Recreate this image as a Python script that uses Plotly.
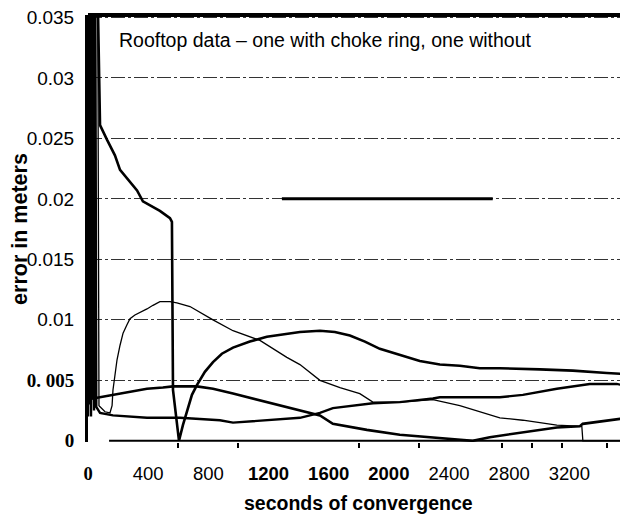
import plotly.graph_objects as go

# ------------------------------------------------------------
# Dados (segundos de convergência x erro em metros)
# ------------------------------------------------------------
t_a = [0, 13, 60, 80, 126, 179, 213, 279, 326, 365, 478, 545, 558, 565, 605, 631, 658, 691, 724, 777,
       831, 890, 964, 1076, 1189, 1309, 1409, 1542, 1641, 1741, 1841, 1940, 2073, 2206, 2339, 2472,
       2605, 2738, 3004, 3223, 3449, 3590]
err_a = [0.0034, 0.040, 0.040, 0.0261, 0.0249, 0.0236, 0.0224, 0.0214, 0.0207, 0.0198, 0.0190, 0.0184,
         0.0181, 0.0042, 0.0000, 0.0013, 0.0025, 0.0038, 0.0046, 0.0057, 0.0065, 0.0072, 0.0077, 0.0082,
         0.0086, 0.0088, 0.0090, 0.0091, 0.0090, 0.0087, 0.0082, 0.0076, 0.0071, 0.0066, 0.0063, 0.0062,
         0.0060, 0.0060, 0.0059, 0.0058, 0.0056, 0.0055]

t_b = [64, 73, 113, 146, 160, 166, 179, 193, 213, 233, 259, 279, 312, 346, 392, 432, 478, 545, 591, 678,
       744, 831, 964, 1143, 1322, 1409, 1542, 1675, 1807, 1894, 2073, 2293, 2472, 2738, 2891, 3117,
       3283, 3290, 3590]
err_b = [0.040, 0.0029, 0.0024, 0.0023, 0.0029, 0.0042, 0.0054, 0.0067, 0.0079, 0.0089, 0.0096, 0.0101,
         0.0104, 0.0106, 0.0109, 0.0112, 0.0115, 0.0115, 0.0114, 0.0111, 0.0106, 0.0100, 0.0091, 0.0083,
         0.0069, 0.0063, 0.0050, 0.0044, 0.0039, 0.0032, 0.0032, 0.0034, 0.0029, 0.0019, 0.0017, 0.0013,
         0.0012, 0.0000, 0.0000]

t_c = [0, 5, 15, 25, 33, 166, 279, 392, 498, 565, 724, 831, 964, 1189, 1409, 1542, 1628, 1854, 2073, 2293,
       2558, 2671, 2891, 3117, 3270, 3289, 3590]
err_c = [0.0035, 0.040, 0.0030, 0.040, 0.0035, 0.0038, 0.0040, 0.0043, 0.0044, 0.0045, 0.0045, 0.0043,
         0.0039, 0.0032, 0.0025, 0.0021, 0.0014, 0.0009, 0.0005, 0.0003, 0.0000, 0.0003, 0.0007, 0.0011,
         0.0012, 0.0014, 0.0019]

t_d = [0, 10, 20, 30, 40, 48, 55, 80, 166, 392, 611, 877, 964, 1189, 1409, 1542, 1628, 1894, 2073, 2293,
       2339, 2738, 2891, 3117, 3336, 3515, 3590]
err_d = [0.0020, 0.040, 0.0020, 0.040, 0.0025, 0.040, 0.0028, 0.0023, 0.0021, 0.0019, 0.0019, 0.0017,
         0.0015, 0.0017, 0.0019, 0.0023, 0.0027, 0.0031, 0.0032, 0.0035, 0.0036, 0.0036, 0.0038, 0.0043,
         0.0047, 0.0047, 0.0045]

# traço grosso sobre a linha de 0.02
t_seg = [1289, 2691]
err_seg = [0.02, 0.02]

x_ticks = [0, 400, 800, 1200, 1600, 2000, 2400, 2800, 3200]
x_labels = ["<span style='font-family:Liberation Serif'><b>0</b></span>", "400", "800",
            "<b>1200</b>", "<b>1600</b>", "<b>2000</b>", "2400", "2800", "3200"]
x_minor = [600, 1000, 1800, 2200, 2750, 2950, 3150, 3450]

y_ticks = [0, 0.005, 0.01, 0.015, 0.02, 0.025, 0.03, 0.035]
y_labels = ["<span style='font-family:Liberation Serif'><b>0</b></span>",
            "<span style='font-family:Liberation Serif'><b>0. 005</b></span>",
            "0.01", "0.015", "0.02", "0.025", "0.03", "0.035"]

FONTE = "Liberation Sans, Arial, sans-serif"

# ============================================================
# Figura
# ============================================================
fig = go.Figure()

for t, e, w in [(t_a, err_a, 2.6), (t_b, err_b, 1.3), (t_c, err_c, 2.6), (t_d, err_d, 2.4), (t_seg, err_seg, 3)]:
    fig.add_trace(go.Scatter(x=t, y=e, mode="lines", line=dict(color="black", width=w), hoverinfo="skip"))

# a página tem margem de 8px no body, então as margens já descontam isso
fig.update_layout(
    width=628,
    height=518,
    margin=dict(l=80, r=8, t=7, b=84, autoexpand=False),
    paper_bgcolor="white",
    plot_bgcolor="white",
    showlegend=False,
    font=dict(family=FONTE, size=18, color="black"),
)

fig.update_xaxes(
    range=[0, 3590],
    tickvals=x_ticks,
    ticktext=x_labels,
    ticks="outside",
    ticklen=15,
    tickcolor="rgba(0,0,0,0)",
    ticklabeloverflow="allow",
    automargin=False,
    showgrid=False,
    zeroline=False,
    showline=False,
    tickfont=dict(size=18.5),
    minor=dict(tickvals=x_minor, ticks="outside", ticklen=5, tickcolor="black", tickwidth=1.5, showgrid=False),
)

fig.update_yaxes(
    range=[-0.0001, 0.0352],
    tickvals=y_ticks,
    ticktext=y_labels,
    ticks="outside",
    ticklen=7,
    tickcolor="rgba(0,0,0,0)",
    ticklabeloverflow="allow",
    automargin=False,
    showgrid=True,
    gridcolor="#333333",
    gridwidth=1,
    griddash="14px,3px,3px,3px",
    zeroline=True,
    zerolinecolor="rgba(0,0,0,0)",
    showline=True,
    linecolor="black",
    linewidth=3,
    tickfont=dict(size=19),
)

# moldura superior e linha de base
fig.add_shape(type="line", xref="paper", yref="paper", x0=0, x1=1, y0=1, y1=1,
              line=dict(color="black", width=4))
fig.add_shape(type="line", xref="x", yref="y", x0=140, x1=3590, y0=0, y1=0,
              line=dict(color="black", width=2))

fig.add_annotation(text="Rooftop data – one with choke ring, one without", xref="paper", yref="paper",
                   x=0.054, y=0.941, xanchor="left", yanchor="middle", showarrow=False,
                   font=dict(size=19.5, family=FONTE))
fig.add_annotation(text="<b>seconds of convergence</b>", xref="paper", yref="paper",
                   x=0.5, y=-0.143, xanchor="center", yanchor="middle", showarrow=False,
                   font=dict(size=19.5, family=FONTE))
fig.add_annotation(text="<b>error in meters</b>", xref="paper", yref="paper", textangle=-90,
                   x=-0.127, y=0.5, xanchor="center", yanchor="middle", showarrow=False,
                   font=dict(size=21.5, family=FONTE))

fig.write_html("out.html")
